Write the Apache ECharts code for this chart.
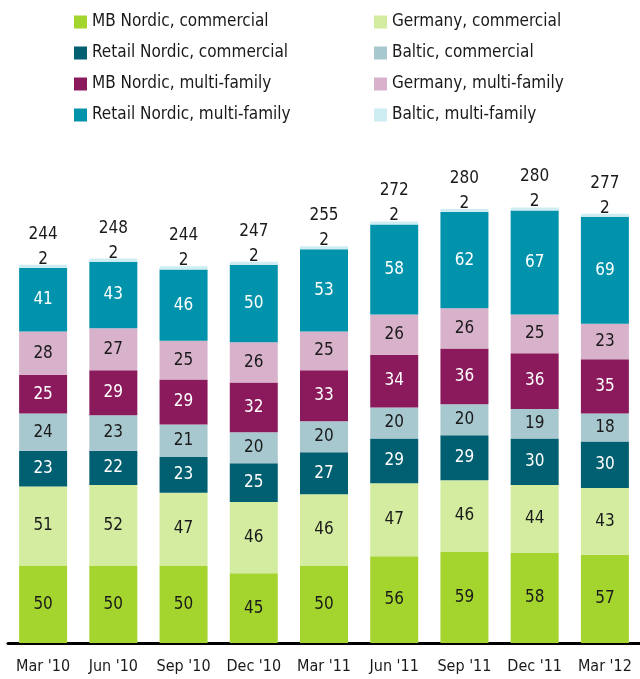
<!DOCTYPE html>
<html lang="en">
<head>
    <meta charset="UTF-8">
    <title>Lending by segment</title>
    <script src="https://cdn.jsdelivr.net/npm/echarts@6/dist/echarts.min.js"></script>
    <style>
        html, body { margin: 0; padding: 0; background: #fff; }
        #chart { width: 640px; height: 679px; }
    </style>
</head>
<body>
    <div id="chart"></div>
    <script>
        // quarters along the x axis
        const quarters = ["Mar '10", "Jun '10", "Sep '10", "Dec '10", "Mar '11", "Jun '11", "Sep '11", "Dec '11", "Mar '12"];

        // stacked from bottom to top
        const mbNordicCommercial     = [50, 50, 50, 45, 50, 56, 59, 58, 57];
        const germanyCommercial      = [51, 52, 47, 46, 46, 47, 46, 44, 43];
        const retailNordicCommercial = [23, 22, 23, 25, 27, 29, 29, 30, 30];
        const balticCommercial       = [24, 23, 21, 20, 20, 20, 20, 19, 18];
        const mbNordicMulti          = [25, 29, 29, 32, 33, 34, 36, 36, 35];
        const germanyMulti           = [28, 27, 25, 26, 25, 26, 26, 25, 23];
        const retailNordicMulti      = [41, 43, 46, 50, 53, 58, 62, 67, 69];
        const balticMulti            = [2, 2, 2, 2, 2, 2, 2, 2, 2];

        // totals printed above each bar
        const totals = [244, 248, 244, 247, 255, 272, 280, 280, 277];

        const fontName = "'Liberation Sans Narrow', 'DejaVu Sans Condensed', 'Liberation Sans', sans-serif";

        const segments = [
            { name: 'MB Nordic, commercial', data: mbNordicCommercial, color: '#a4d52f', text: '#1a1a1a' },
            { name: 'Germany, commercial', data: germanyCommercial, color: '#d3ec9f', text: '#1a1a1a' },
            { name: 'Retail Nordic, commercial', data: retailNordicCommercial, color: '#005f70', text: '#ffffff' },
            { name: 'Baltic, commercial', data: balticCommercial, color: '#a8c8cf', text: '#1a1a1a' },
            { name: 'MB Nordic, multi-family', data: mbNordicMulti, color: '#8b1a5d', text: '#ffffff' },
            { name: 'Germany, multi-family', data: germanyMulti, color: '#d8b1ca', text: '#1a1a1a' },
            { name: 'Retail Nordic, multi-family', data: retailNordicMulti, color: '#0093ab', text: '#ffffff' },
            { name: 'Baltic, multi-family', data: balticMulti, color: '#ceedf3', text: '#1a1a1a' }
        ];

        const series = segments.map((s, i) => ({
            name: s.name,
            type: 'bar',
            stack: 'total',
            barWidth: 48,
            data: s.data,
            itemStyle: { color: s.color },
            label: {
                show: true,
                position: i === segments.length - 1 ? 'top' : 'inside',
                distance: -3,
                color: s.text,
                fontFamily: fontName,
                fontSize: 17
            }
        }));

        // zero-height bar on top that only carries the total label
        series.push({
            name: 'Total',
            type: 'bar',
            stack: 'total',
            barWidth: 48,
            data: totals.map(() => 0),
            itemStyle: { color: 'transparent' },
            label: {
                show: true,
                position: 'top',
                distance: 22,
                color: '#1a1a1a',
                fontFamily: fontName,
                fontSize: 17,
                formatter: p => totals[p.dataIndex]
            }
        });

        const legendBase = {
            orient: 'vertical',
            top: 8,
            itemWidth: 13,
            itemHeight: 13,
            itemGap: 13,
            icon: 'rect',
            selectedMode: false,
            textStyle: { fontFamily: fontName, fontSize: 17, lineHeight: 18, color: '#1a1a1a' }
        };

        const chart = echarts.init(document.getElementById('chart'));
        chart.setOption({
            animation: false,
            legend: [
                Object.assign({}, legendBase, { left: 69, data: segments.filter((s, i) => i % 2 === 0).map(s => s.name) }),
                Object.assign({}, legendBase, { left: 369, data: segments.filter((s, i) => i % 2 === 1).map(s => s.name) })
            ],
            grid: { left: 8, right: -3, top: 178, bottom: 36 },
            xAxis: {
                type: 'category',
                data: quarters,
                axisLine: { lineStyle: { color: '#000', width: 3 } },
                axisTick: { show: false },
                axisLabel: { interval: 0, color: '#1a1a1a', fontFamily: fontName, fontSize: 16, margin: 16 }
            },
            yAxis: {
                type: 'value',
                min: 0,
                max: 300,
                show: false
            },
            series: series
        });
    </script>
</body>
</html>
